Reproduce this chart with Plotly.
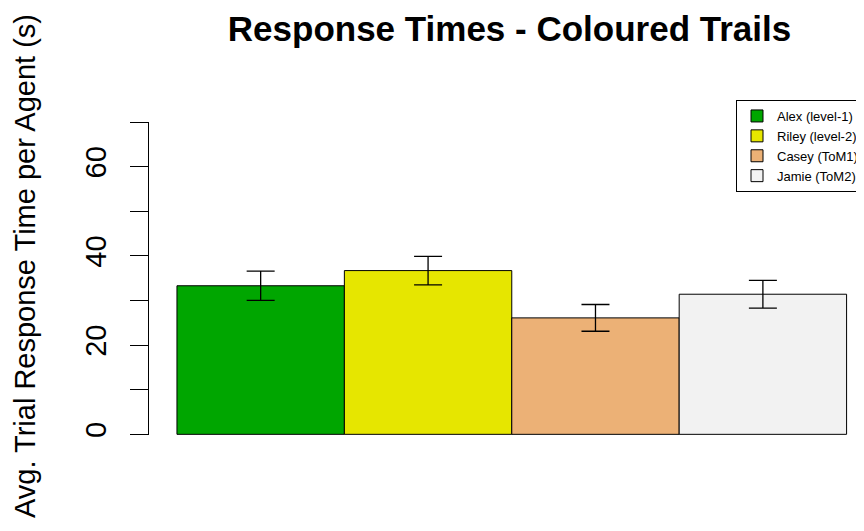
import plotly.graph_objects as go

agents = ["Alex (level-1)", "Riley (level-2)", "Casey (ToM1)", "Jamie (ToM2)"]
mean_times = [33.3, 36.7, 26.1, 31.4]
err_times = [3.3, 3.2, 3.0, 3.1]
colors = ["#00A600", "#E6E600", "#ECB176", "#F2F2F2"]
tick_vals = [0, 10, 20, 30, 40, 50, 60, 70]
tick_text = ["0", "", "20", "", "40", "", "60", ""]

FONT = "Liberation Sans, Arial, sans-serif"
OFF = 8  # browser body margin

W, H = 864 - OFF, 531 - OFF
L, T, B = 149 - OFF, 122 - OFF, 531 - 435

fig = go.Figure()
for i, name in enumerate(agents):
    fig.add_trace(go.Bar(
        x=[i], y=[mean_times[i]], name=name, width=1,
        marker=dict(color=colors[i], line=dict(color="black", width=1)),
        error_y=dict(type="data", array=[err_times[i]], color="black", thickness=1.3, width=14),
    ))

PW = W - L
PH = H - T - B

fig.update_layout(
    width=W, height=H,
    margin=dict(l=L, r=0, t=T, b=B, autoexpand=False),
    paper_bgcolor="white", plot_bgcolor="white",
    barmode="overlay",
    font=dict(family=FONT, color="black"),
    title=dict(text="<b>Response Times - Coloured Trails</b>", font=dict(size=35, color="black", family=FONT),
               x=(509.5 - OFF) / W, xanchor="center", xref="container",
               y=1 - (29 - OFF) / H, yanchor="middle", yref="container"),
    xaxis=dict(visible=False, range=[-0.667, 3.604]),
    yaxis=dict(range=[-0.15, 70], tickvals=tick_vals, ticktext=tick_text, tickangle=-90,
               ticks="outside", ticklen=18, tickwidth=1, tickcolor="black",
               showline=True, linecolor="black", linewidth=1, showgrid=False, zeroline=False,
               tickfont=dict(size=29, family=FONT, color="black"), ticklabelstandoff=12),
    legend=dict(x=(736 - 149) / PW, y=1 + (122 - 100) / PH, xanchor="left", yanchor="top",
                bgcolor="white", bordercolor="black", borderwidth=1,
                font=dict(size=13, family=FONT, color="black"), itemwidth=30),
    annotations=[dict(text="Avg. Trial Response Time per Agent (s)", textangle=-90,
                      x=(25 - 149) / PW, y=(435 - 266) / PH, xref="paper", yref="paper",
                      xanchor="center", yanchor="middle", showarrow=False,
                      font=dict(size=29, family=FONT, color="black"))],
)

fig.write_html("out.html")
